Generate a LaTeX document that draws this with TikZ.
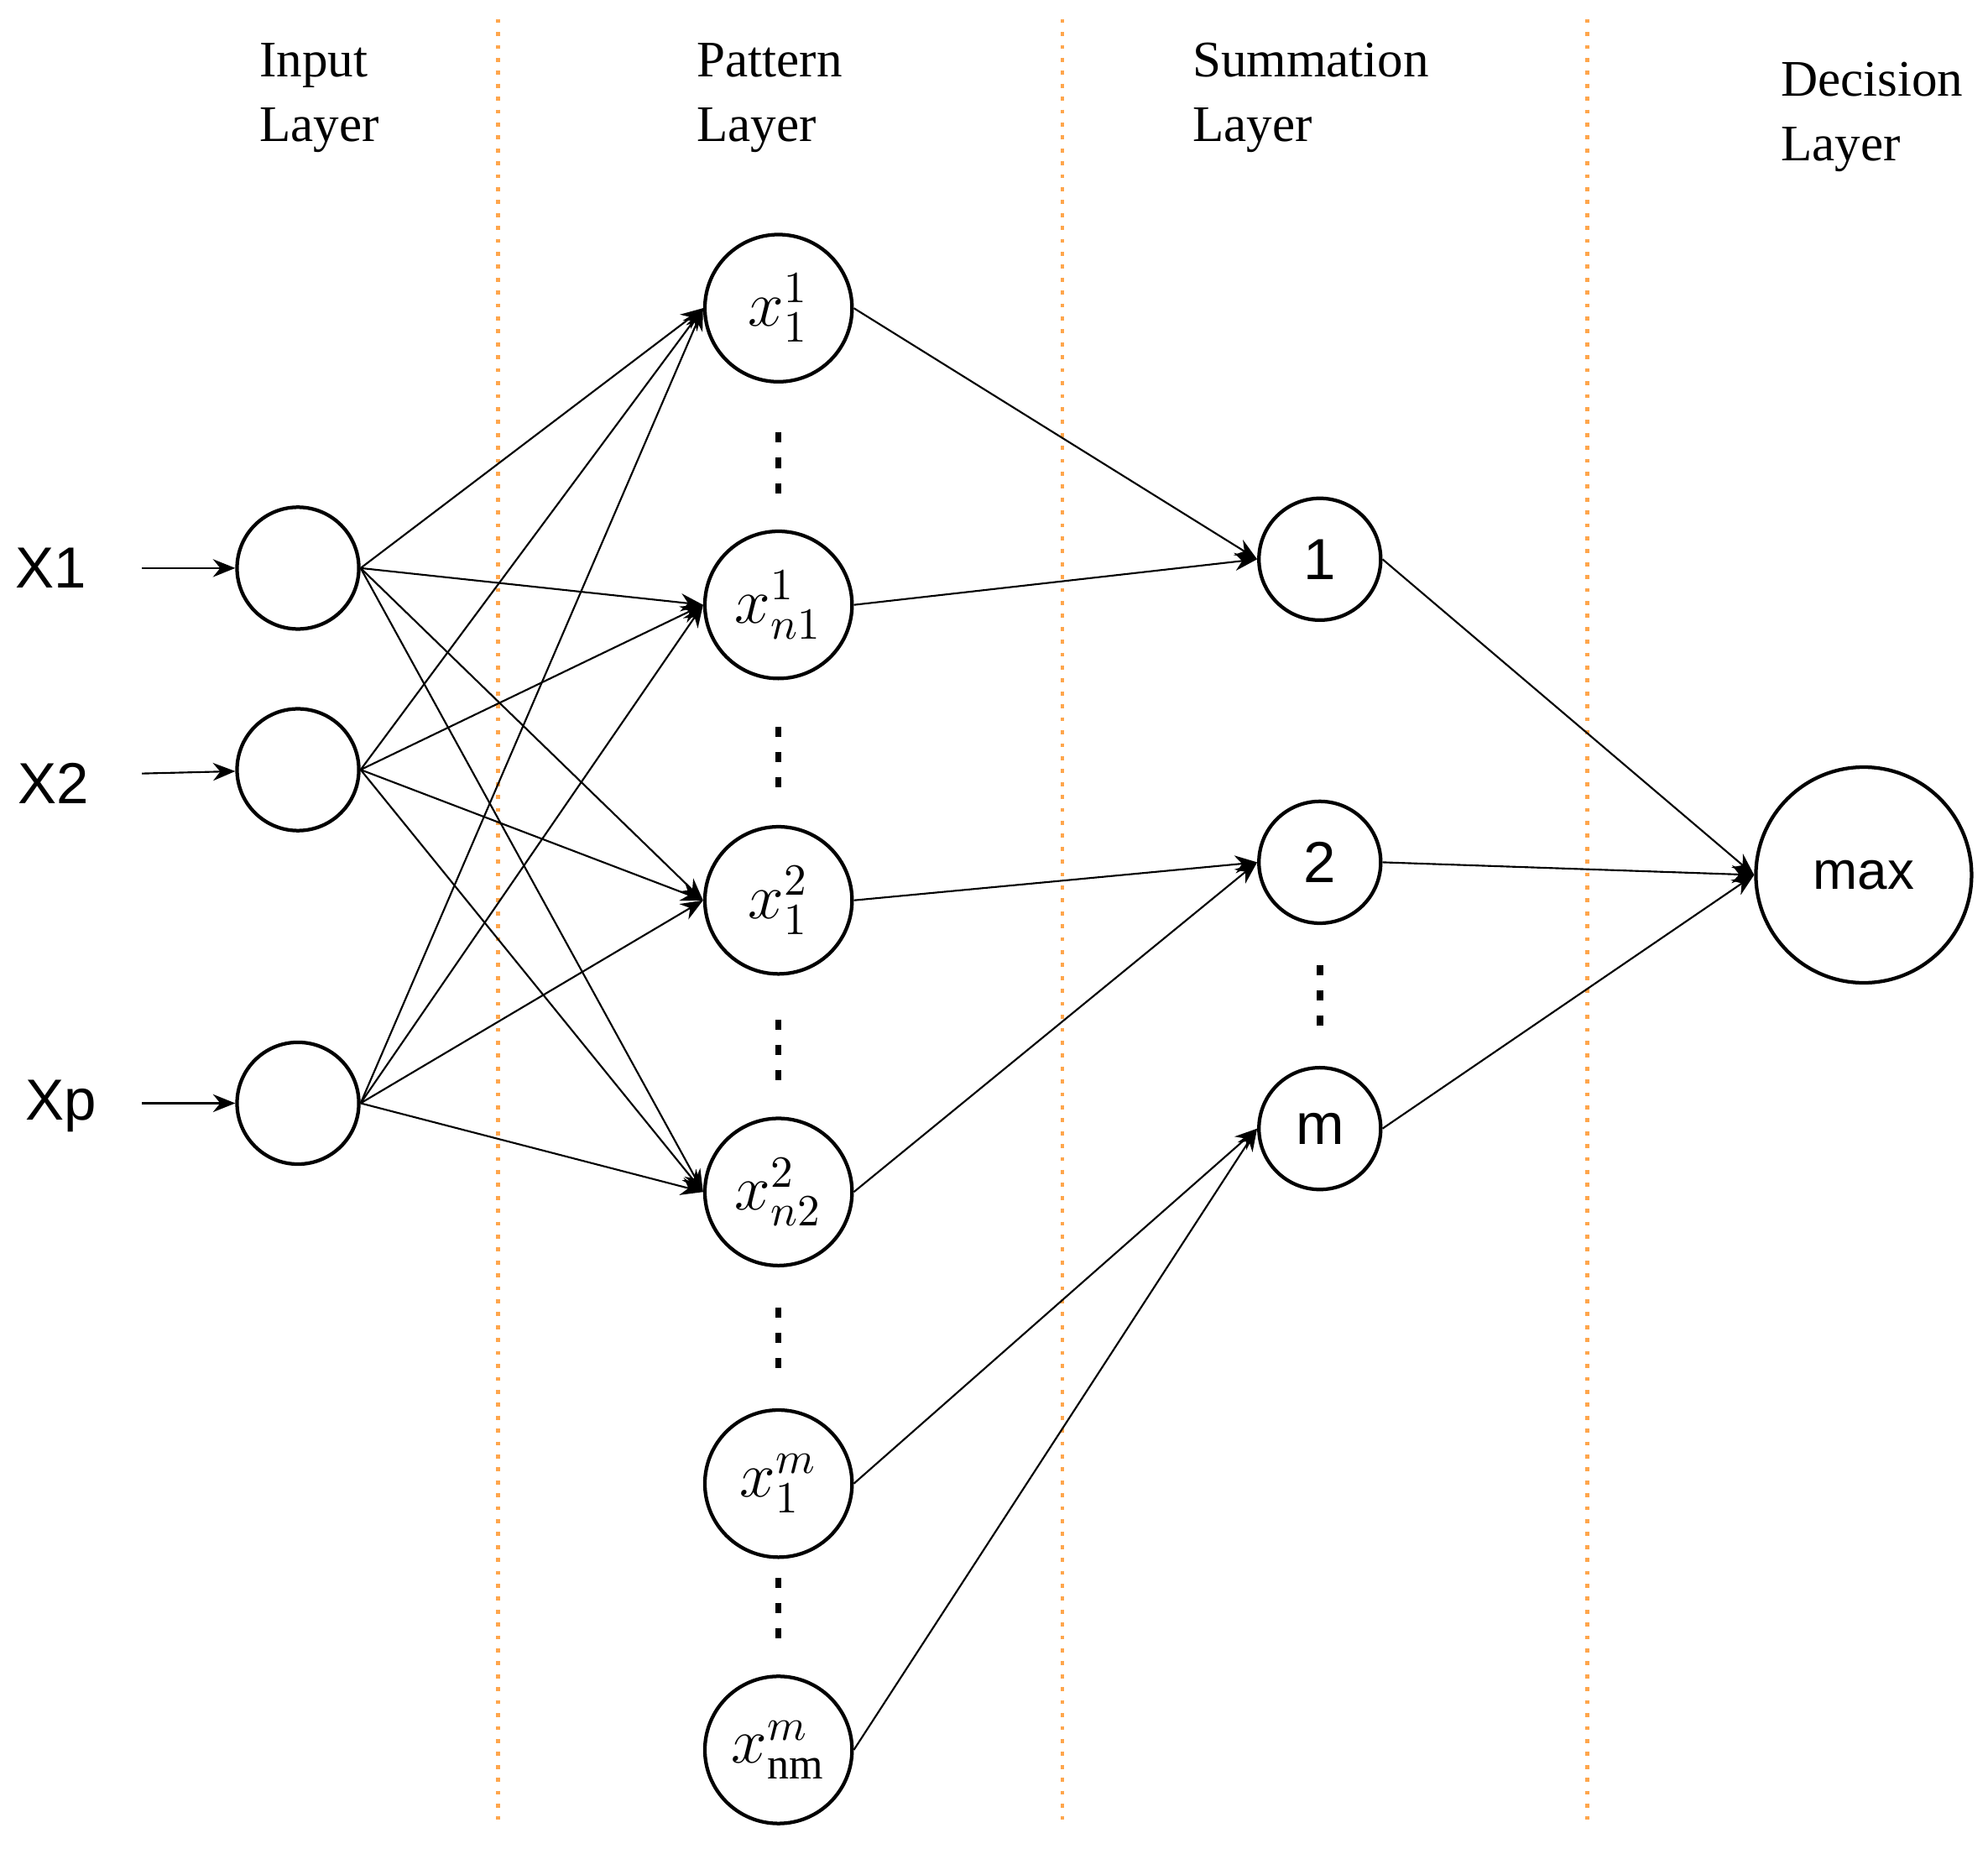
\documentclass[tikz,border=0pt]{standalone}
\usepackage{fontspec}
\setmainfont{Liberation Serif}
\newfontfamily\lsans{Liberation Sans}
\usetikzlibrary{arrows.meta}
\begin{document}
\begin{tikzpicture}[x=0.01cm,y=-0.01cm,
  neu/.style={circle,draw,line width=0.8pt,inner sep=0pt},
  inp/.style={neu,minimum size=0.96cm},
  pat/.style={neu,minimum size=1.16cm,font=\fontsize{14pt}{16pt}\selectfont},
  sum/.style={neu,minimum size=0.96cm,font=\lsans\fontsize{13pt}{15pt}\selectfont},
  con/.style={line width=0.4pt,-{Stealth[length=5pt,width=4pt]}},
  sep/.style={draw=orange!70,dotted,line width=0.9pt},
  hdr/.style={align=left,anchor=west,inner sep=0pt,font=\fontsize{11.5pt}{14.5pt}\selectfont},
  lbl/.style={font=\lsans\fontsize{13pt}{15pt}\selectfont},
  vd/.style={font=\fontsize{16pt}{16pt}\selectfont\bfseries}]
\useasboundingbox (0,0) rectangle (1568,1462);
\foreach \x in {393,838,1252} \draw[sep] (\x,15) -- (\x,1435);
\node[hdr] (h1) at (204,77) {Input\\Layer};
\node[hdr] (h2) at (549,77) {Pattern\\Layer};
\node[hdr] (h3) at (940,77) {Summation\\Layer};
\node[hdr] (h4) at (1404,92) {Decision\\Layer};
\node[inp] (i1) at (235,448) {};
\node[inp] (i2) at (235,607) {};
\node[inp] (i3) at (235,870) {};
\node[lbl] (l1) at (40,448) {X1};
\node[lbl] (l2) at (42,618) {X2};
\node[lbl] (l3) at (48,872) {Xp};
\coordinate (a1) at (112,448);
\coordinate (a2) at (112,610);
\coordinate (a3) at (112,870);
\draw[con] (a1) -- (i1);
\draw[con] (a2) -- (i2);
\draw[con] (a3) -- (i3);
\node[pat] (p1) at (614,243) {$x_1^1$};
\node[pat] (p2) at (614,477) {$x_{n1}^1$};
\node[pat] (p3) at (614,710) {$x_1^2$};
\node[pat] (p4) at (614,940) {$x_{n2}^2$};
\node[pat] (p5) at (614,1170) {$x_1^m$};
\node[pat] (p6) at (614,1380) {$x_{\mathrm{nm}}^m$};
\foreach \y [count=\k] in {365,597,828,1055,1268}
  \node[inner sep=0pt] (pd\k) at (614,\y) {\tikz[x=0.01cm,y=-0.01cm]{\foreach \d in {0,20,40}\fill (0,\d) rectangle (5,\d+8);}};
\node[sum] (s1) at (1041,441) {1};
\node[sum] (s2) at (1041,680) {2};
\node[sum] (s3) at (1041,890) {m};
\node[inner sep=0pt] (sd) at (1041,785) {\tikz[x=0.01cm,y=-0.01cm]{\foreach \d in {0,20,40}\fill (0,\d) rectangle (5,\d+8);}};
\node[neu,minimum size=1.7cm,font=\lsans\fontsize{12pt}{14pt}\selectfont] (mx) at (1470,690) {max};
\foreach \i in {i1,i2,i3}
  \foreach \p in {p1,p2,p3,p4}
    \draw[con] (\i.east) -- (\p.west);
\draw[con] (p1.east) -- (s1.west);
\draw[con] (p2.east) -- (s1.west);
\draw[con] (p3.east) -- (s2.west);
\draw[con] (p4.east) -- (s2.west);
\draw[con] (p5.east) -- (s3.west);
\draw[con] (p6.east) -- (s3.west);
\draw[con] (s1.east) -- (mx.west);
\draw[con] (s2.east) -- (mx.west);
\draw[con] (s3.east) -- (mx.west);
\end{tikzpicture}
\end{document}
